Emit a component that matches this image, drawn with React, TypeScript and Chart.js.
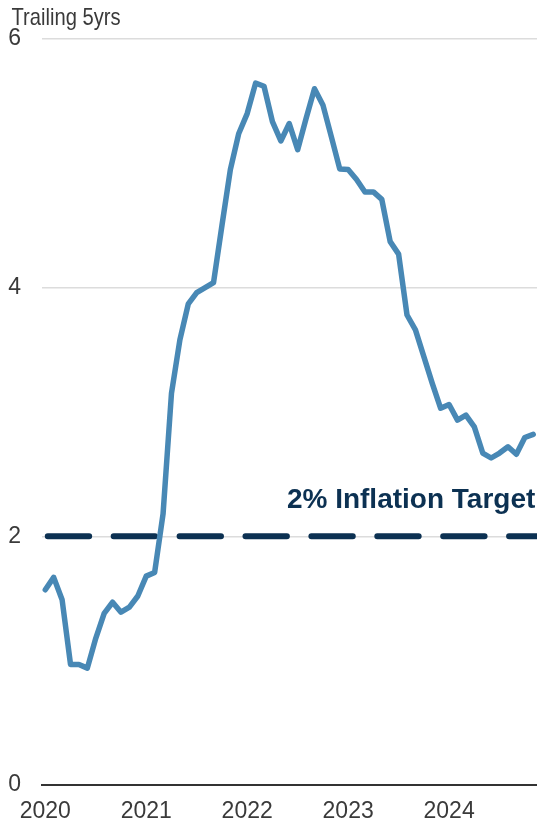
import React, { useEffect, useRef } from "react";
import { Chart, registerables } from "chart.js";

Chart.register(...registerables);

// ---- Data ----
const yearLabels = ["2020", "2021", "2022", "2023", "2024"];
const yearStartMonthIndex = [0, 12, 24, 36, 48];
// Monthly trailing 5-year values, Jan 2020 .. Nov 2024
const trailing5yrs = [
  1.57, 1.67, 1.49, 0.97, 0.97, 0.94, 1.18, 1.38, 1.47, 1.39, 1.43, 1.52,
  1.68, 1.71, 2.18, 3.15, 3.58, 3.87, 3.96, 4.0, 4.04, 4.5, 4.95, 5.24,
  5.4, 5.645, 5.62, 5.335, 5.18, 5.32, 5.11, 5.36, 5.6, 5.47, 5.215, 4.955,
  4.95, 4.87, 4.77, 4.77, 4.71, 4.37, 4.27, 3.78, 3.66, 3.445, 3.23, 3.03,
  3.06, 2.935, 2.975, 2.88, 2.67, 2.63, 2.67, 2.72, 2.66, 2.795, 2.82,
];
const targetRate = 2;
const yTickValues = [0, 2, 4, 6];
const axisTitle = "Trailing 5yrs";
const targetLabel = "2% Inflation Target";

// ---- Styles ----
const LINE_COLOR = "#4888b5";
const NAVY = "#0c3152";
const TEXT_COLOR = "#3a3a3a";
const GRID_COLOR = "#dcdcdc";
const FONT = '"Liberation Sans", Arial, Helvetica, sans-serif';
const X_MIN = -0.39;
const X_MAX = 58.45;

export default function App() {
  const canvasRef = useRef<HTMLCanvasElement>(null);

  useEffect(() => {
    const canvas = canvasRef.current;
    if (!canvas) return;

    const lineData = trailing5yrs.map((v, i) => ({ x: i, y: v }));
    const targetData = [
      { x: 0, y: targetRate },
      { x: X_MAX, y: targetRate },
    ];

    const textPlugin = {
      id: "customTexts",
      afterDatasetsDraw(chart: any) {
        const { ctx, chartArea, scales } = chart;
        ctx.save();
        ctx.fillStyle = TEXT_COLOR;
        ctx.font = `24px ${FONT}`;
        ctx.textAlign = "left";
        ctx.textBaseline = "alphabetic";
        ctx.translate(11.5, 25);
        ctx.scale(0.84, 1);
        ctx.fillText(axisTitle, 0, 0);
        ctx.restore();

        ctx.save();
        ctx.fillStyle = NAVY;
        ctx.font = `bold 28px ${FONT}`;
        ctx.textAlign = "right";
        ctx.textBaseline = "alphabetic";
        ctx.fillText(
          targetLabel,
          chartArea.right - 1.7,
          scales.y.getPixelForValue(targetRate) - 28.4
        );
        ctx.restore();
      },
    };

    const chart = new Chart(canvas, {
      type: "line",
      data: {
        datasets: [
          {
            data: lineData,
            borderColor: LINE_COLOR,
            borderWidth: 5.5,
            pointRadius: 0,
            tension: 0,
            borderJoinStyle: "round",
            borderCapStyle: "round",
            order: 1,
          },
          {
            data: targetData,
            borderColor: NAVY,
            borderWidth: 6,
            pointRadius: 0,
            borderDash: [41.4, 24.5],
            borderDashOffset: -2.5,
            borderCapStyle: "round",
            order: 2,
          },
        ],
      },
      options: {
        responsive: false,
        devicePixelRatio: 1,
        animation: false,
        events: [],
        layout: { padding: { top: 39, left: 0, right: 0, bottom: 0 } },
        plugins: {
          legend: { display: false },
          tooltip: { enabled: false },
          title: { display: false },
        },
        scales: {
          x: {
            type: "linear",
            min: X_MIN,
            max: X_MAX,
            afterFit: (scale: any) => {
              scale.height = 37;
            },
            afterBuildTicks: (scale: any) => {
              scale.ticks = yearStartMonthIndex.map((v) => ({ value: v }));
            },
            grid: { display: false, drawTicks: false },
            border: { display: true, color: "#333333", width: 2 },
            ticks: {
              padding: 13,
              color: TEXT_COLOR,
              font: { family: FONT, size: 23 },
              maxRotation: 0,
              autoSkip: false,
              callback: (value: any) => {
                const idx = yearStartMonthIndex.indexOf(Number(value));
                return idx >= 0 ? yearLabels[idx] : "";
              },
            },
          },
          y: {
            type: "linear",
            min: 0,
            max: 6,
            afterFit: (scale: any) => {
              scale.width = 42;
            },
            afterBuildTicks: (scale: any) => {
              scale.ticks = yTickValues.map((v) => ({ value: v }));
            },
            border: { display: false },
            grid: {
              drawTicks: false,
              lineWidth: 1.5,
              color: (ctx: any) =>
                ctx.tick && ctx.tick.value === 0 ? "rgba(0,0,0,0)" : GRID_COLOR,
            },
            ticks: {
              padding: 21,
              color: TEXT_COLOR,
              font: { family: FONT, size: 23 },
              callback: (value: any) => String(value),
            },
          },
        },
      },
      plugins: [textPlugin],
    } as any);

    return () => {
      chart.destroy();
    };
  }, []);

  return (
    <div
      style={{
        position: "fixed",
        left: 0,
        top: 0,
        width: 537,
        height: 822,
        background: "#ffffff",
      }}
    >
      <canvas
        ref={canvasRef}
        width={537}
        height={822}
        style={{ display: "block", width: 537, height: 822 }}
      />
    </div>
  );
}
